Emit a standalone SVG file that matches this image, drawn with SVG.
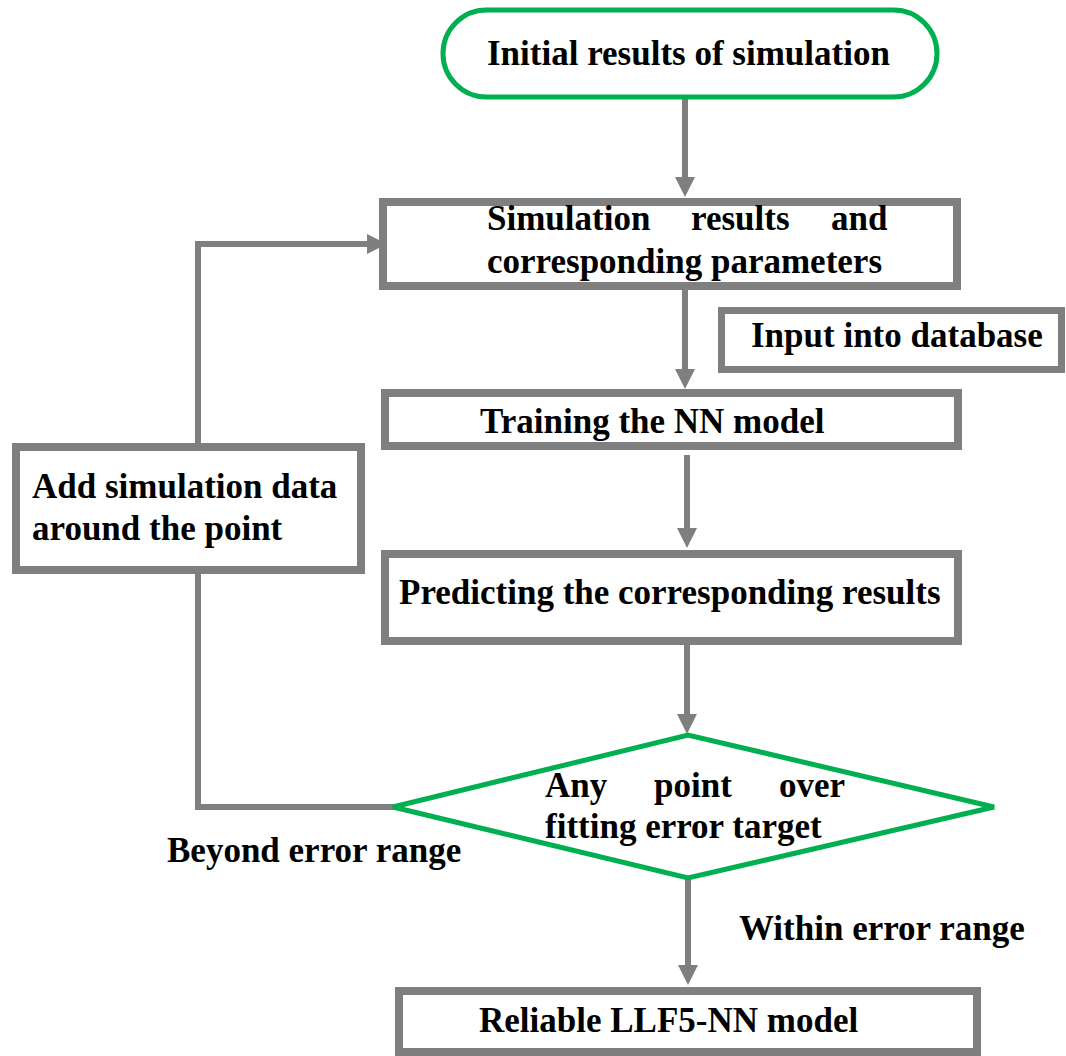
<svg xmlns="http://www.w3.org/2000/svg" width="1066" height="1056" viewBox="0 0 1066 1056">
<defs>
<style>
.box{fill:#fff;stroke:#7f7f7f;stroke-width:8}
.green{fill:#fff;stroke:#00b050;stroke-width:5}
.t{font-family:"Liberation Serif","Times New Roman",serif;font-weight:bold;font-size:35px;fill:#000}
.conn{fill:none;stroke:#7f7f7f;stroke-width:6}
</style>
<marker id="arr" viewBox="0 0 20 20" refX="10" refY="10" markerWidth="20" markerHeight="20" markerUnits="userSpaceOnUse" orient="auto">
<path d="M0,0 L20,10 L0,20 z" fill="#7f7f7f"/>
</marker>
</defs>
<rect width="1066" height="1056" fill="#fff"/>
<g id="connectors">
<path class="conn" d="M685,99 V187" marker-end="url(#arr)"/>
<path class="conn" d="M685,290 V379" marker-end="url(#arr)"/>
<path class="conn" d="M687,455 V538" marker-end="url(#arr)"/>
<path class="conn" d="M687,645 V724" marker-end="url(#arr)"/>
<path class="conn" d="M688,878 V975" marker-end="url(#arr)"/>
<path class="conn" d="M198,453 V244 H377" marker-end="url(#arr)"/>
<path class="conn" d="M198,574 V807 H395"/>
</g>
<g id="start">
<rect class="green" x="443" y="10" width="494" height="87" rx="43.5" ry="43.5"/>
<text class="t" x="487" y="65">Initial results of simulation</text>
</g>
<g id="sim-results">
<rect class="box" x="383" y="202" width="574" height="84"/>
<text class="t" y="230"><tspan x="487">Simulation</tspan><tspan x="691">results</tspan><tspan x="831">and</tspan></text>
<text class="t" x="487" y="273">corresponding parameters</text>
</g>
<g id="input-db">
<rect class="box" x="721.5" y="310.5" width="340" height="59" style="stroke-width:7"/>
<text class="t" x="751" y="347">Input into database</text>
</g>
<g id="training">
<rect class="box" x="385" y="393" width="573" height="53"/>
<text class="t" x="480" y="433">Training the NN model</text>
</g>
<g id="predicting">
<rect class="box" x="385" y="554" width="573" height="87"/>
<text class="t" x="399" y="604">Predicting the corresponding results</text>
</g>
<g id="add-data">
<rect class="box" x="16" y="447" width="345" height="123"/>
<text class="t" x="32" y="498">Add simulation data</text>
<text class="t" x="32" y="540">around the point</text>
</g>
<g id="decision">
<polygon class="green" points="393,807 688,735 994,807 688,878"/>
<text class="t" y="797"><tspan x="545">Any</tspan><tspan x="654">point</tspan><tspan x="779">over</tspan></text>
<text class="t" x="545" y="838">fitting error target</text>
</g>
<g id="labels">
<text class="t" x="167" y="862">Beyond error range</text>
<text class="t" x="739" y="940">Within error range</text>
</g>
<g id="reliable">
<rect class="box" x="399" y="991" width="578" height="61"/>
<text class="t" x="479" y="1032">Reliable LLF5-NN model</text>
</g>
</svg>
